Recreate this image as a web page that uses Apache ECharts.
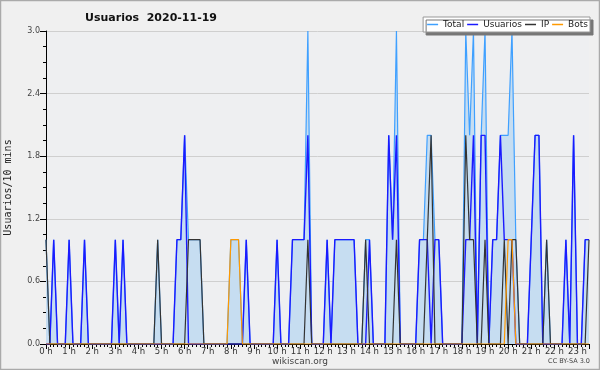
<!DOCTYPE html>
<html><head><meta charset="utf-8">
<script src="https://cdn.jsdelivr.net/npm/echarts@6/dist/echarts.min.js"></script>
<style>html,body{margin:0;padding:0;background:#f0f0f0}#c{width:600px;height:370px}</style>
</head><body><div id="c"></div>
<script>
// 10-minute slots from 0:00 to 23:30 (142 points), grouped 6 per hour
const hourLabels = ["0 h","1 h","2 h","3 h","4 h","5 h","6 h","7 h","8 h","9 h","10 h","11 h","12 h","13 h","14 h","15 h","16 h","17 h","18 h","19 h","20 h","21 h","22 h","23 h"];
const yTicks = [0, 0.6, 1.2, 1.8, 2.4, 3.0];
const seriesNames = ["Total", "Usuarios", "IP", "Bots"];
const total = [
1,0,1,0,0,0, 1,0,0,0,1,0, 0,0,0,0,0,0, 1,0,1,0,0,0,
0,0,0,0,0,1, 0,0,0,0,1,1, 2,1,1,1,1,0, 0,0,0,0,0,0,
1,1,1,0,1,0, 0,0,0,0,0,0, 1,0,0,0,1,1, 1,1,3,0,0,0,
0,1,0,1,1,1, 1,1,1,0,0,1, 1,0,0,0,0,2, 1,3,0,0,0,0,
0,1,1,2,2,1, 1,0,0,0,0,0, 0,3,2,3,0,2, 3,0,1,1,2,2,
2,3,1,0,0,0, 1,2,2,0,1,0, 0,0,0,1,0,2, 0,0,1,1];
const usuarios = [
0,0,1,0,0,0, 1,0,0,0,1,0, 0,0,0,0,0,0, 1,0,1,0,0,0,
0,0,0,0,0,0, 0,0,0,0,1,1, 2,0,0,0,0,0, 0,0,0,0,0,0,
0,0,0,0,1,0, 0,0,0,0,0,0, 1,0,0,0,1,1, 1,1,2,0,0,0,
0,1,0,1,1,1, 1,1,1,0,0,0, 1,0,0,0,0,2, 1,2,0,0,0,0,
0,1,1,1,0,1, 1,0,0,0,0,0, 0,1,1,2,0,2, 2,0,1,1,2,1,
1,1,0,0,0,0, 1,2,2,0,0,0, 0,0,0,1,0,2, 0,0,1,1];
const ip = [
1,0,0,0,0,0, 0,0,0,0,0,0, 0,0,0,0,0,0, 0,0,0,0,0,0,
0,0,0,0,0,1, 0,0,0,0,0,0, 0,1,1,1,1,0, 0,0,0,0,0,0,
0,0,0,0,0,0, 0,0,0,0,0,0, 0,0,0,0,0,0, 0,0,1,0,0,0,
0,0,0,0,0,0, 0,0,0,0,0,1, 0,0,0,0,0,0, 0,1,0,0,0,0,
0,0,0,1,2,0, 0,0,0,0,0,0, 0,2,1,1,0,0, 1,0,0,0,0,1,
0,1,1,0,0,0, 0,0,0,0,1,0, 0,0,0,0,0,0, 0,0,0,1];
const bots = [
0,0,0,0,0,0, 0,0,0,0,0,0, 0,0,0,0,0,0, 0,0,0,0,0,0,
0,0,0,0,0,0, 0,0,0,0,0,0, 0,0,0,0,0,0, 0,0,0,0,0,0,
1,1,1,0,0,0, 0,0,0,0,0,0, 0,0,0,0,0,0, 0,0,0,0,0,0,
0,0,0,0,0,0, 0,0,0,0,0,0, 0,0,0,0,0,0, 0,0,0,0,0,0,
0,0,0,0,0,0, 0,0,0,0,0,0, 0,0,0,0,0,0, 0,0,0,0,0,0,
1,1,0,0,0,0, 0,0,0,0,0,0, 0,0,0,0,0,0, 0,0,0,0];

const pairs = arr => arr.map((v, i) => [i, v]);
const chart = echarts.init(document.getElementById('c'), null, {renderer: 'canvas'});
const font = 'DejaVu Sans';
chart.setOption({
  backgroundColor: '#f0f0f0',
  animation: false,
  title: {
    text: 'Usuarios  2020-11-19', left: 146, top: 8, textAlign: 'center',
    textStyle: {fontFamily: font, fontSize: 11, fontWeight: 'bold', color: '#111'}
  },
  legend: {
    data: seriesNames, right: 10, top: 17, orient: 'horizontal',
    icon: 'rect', itemWidth: 11, itemHeight: 1.5, itemGap: 3,
    padding: [2, 2, 2, 4],
    backgroundColor: '#ffffff', borderColor: '#999', borderWidth: 1,
    shadowColor: '#777', shadowBlur: 0, shadowOffsetX: 3, shadowOffsetY: 3,
    textStyle: {fontFamily: font, fontSize: 9, lineHeight: 11, color: '#222'}
  },
  grid: {left: 46, right: 11, top: 31, bottom: 26, containLabel: false, outerBoundsMode: 'none',
         show: true, backgroundColor: '#eeeff1', borderWidth: 0},
  xAxis: {
    type: 'value', min: 0, max: 141, interval: 6,
    axisLine: {show: true, onZero: false, lineStyle: {color: '#000', width: 1}},
    axisTick: {show: true, length: 5, lineStyle: {color: '#000'}},
    minorTick: {show: true, splitNumber: 6, length: 3, lineStyle: {color: '#000'}},
    splitLine: {show: false},
    axisLabel: {
      fontFamily: font, fontSize: 8.5, color: '#333', margin: 3, showMaxLabel: false,
      formatter: v => (v % 6 === 0 && v / 6 < hourLabels.length) ? hourLabels[v / 6] : ''
    }
  },
  yAxis: {
    type: 'value', min: yTicks[0], max: yTicks[yTicks.length - 1], interval: 0.6,
    name: 'Usuarios/10 mins', nameLocation: 'middle', nameGap: 33, nameRotate: 90,
    nameTextStyle: {fontFamily: 'DejaVu Sans Mono', fontSize: 10, color: '#222'},
    axisLine: {show: true, lineStyle: {color: '#000', width: 1}},
    axisTick: {show: true, length: 6, lineStyle: {color: '#000'}},
    minorTick: {show: true, splitNumber: 4, length: 3, lineStyle: {color: '#000'}},
    splitLine: {show: true, lineStyle: {color: '#cfcfcf', width: 1}},
    axisLabel: {fontFamily: font, fontSize: 8, color: '#444', margin: 6, formatter: v => v.toFixed(1)}
  },
  series: [
    {name: 'Total', type: 'line', data: pairs(total), symbol: 'none', z: 1,
     lineStyle: {color: '#3fa0ff', width: 1.2}, itemStyle: {color: '#3fa0ff'},
     areaStyle: {color: '#c6ddf1', opacity: 1}},
    {name: 'Usuarios', type: 'line', data: pairs(usuarios), symbol: 'none', z: 2,
     lineStyle: {color: '#1a1aff', width: 1.4}, itemStyle: {color: '#1a1aff'}},
    {name: 'IP', type: 'line', data: pairs(ip), symbol: 'none', z: 3,
     lineStyle: {color: '#333333', width: 1.2}, itemStyle: {color: '#333333'}},
    {name: 'Bots', type: 'line', data: pairs(bots), symbol: 'none', z: 4,
     lineStyle: {color: '#ff9900', width: 1.2}, itemStyle: {color: '#ff9900'}}
  ],
  graphic: [
    {type: 'rect', shape: {x: 0.5, y: 0.5, width: 599, height: 369}, style: {fill: 'none', stroke: '#aaa', lineWidth: 1.5}, silent: true, z: 100},
    {type: 'text', left: 'center', top: 357, style: {text: 'wikiscan.org', fontFamily: font, fontSize: 9, fill: '#444'}},
    {type: 'text', right: 10, top: 358, style: {text: 'CC BY-SA 3.0', fontFamily: font, fontSize: 6.5, fill: '#444'}}
  ]
});
</script>
</body></html>
